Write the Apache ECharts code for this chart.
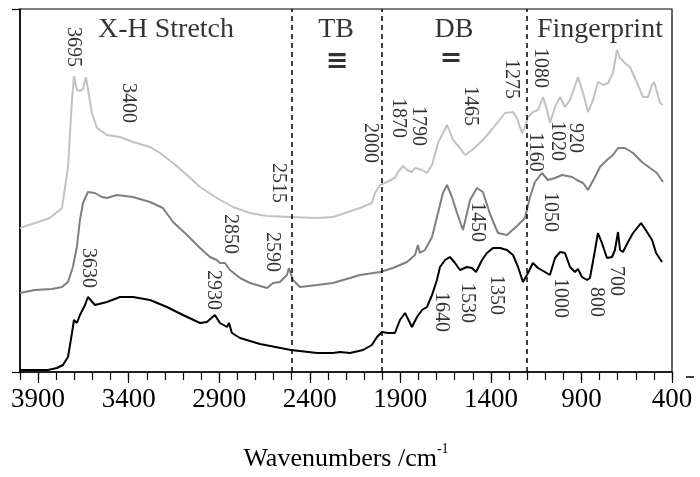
<!DOCTYPE html>
<html><head><meta charset="utf-8">
<script src="https://cdn.jsdelivr.net/npm/echarts@6/dist/echarts.min.js"></script>
<style>html,body{margin:0;padding:0;background:#fff}#c{width:700px;height:477px}</style>
</head><body><div id="c"></div>
<script>
// ---- Data (wavenumber / cm-1, absorbance in arbitrary offset units) ----
const wnA = [4000,3835,3768,3735,3713,3702,3686,3669,3652,3636,3625,3603,3575,3520,3448,3376,3282,3227,3155,3078,3006,2913,2824,2730,2636,2504,2360,2272,2206,2123,2057,2040,2012,1974,1930,1913,1885,1863,1836,1819,1780,1753,1725,1692,1642,1609,1571,1543,1504,1444,1388,1322,1278,1256,1228,1212,1195,1168,1140,1112,1090,1074,1046,1018,991,963,919,891,864,836,809,781,753,726,704,687,660,632,593,560,533,510,499,483,466,450];
const valA = [144,154,164,205,272,296,282,281,283,295,297,259,244,237,235,230,225,219,209,197,185,174,165,159,156,155,154,155,159,164,169,179,187,190,194,200,206,202,200,204,202,199,207,229,247,232,224,217,222,232,244,259,260,254,239,245,255,260,262,275,262,249,265,275,265,272,295,279,260,272,290,287,289,299,322,314,309,305,289,275,275,287,290,280,269,267];

const wnB = [4000,3918,3824,3768,3735,3708,3686,3669,3652,3625,3586,3548,3520,3465,3376,3282,3211,3155,3078,3006,2951,2913,2896,2868,2841,2785,2730,2636,2603,2565,2526,2515,2493,2454,2360,2272,2178,2123,2012,1941,1863,1819,1803,1792,1764,1725,1692,1665,1642,1615,1587,1554,1515,1477,1444,1405,1361,1311,1250,1212,1184,1157,1118,1085,1046,1007,952,925,891,864,825,798,759,726,698,660,615,566,521,483,450];
const valB = [79,82,83,85,90,105,125,152,169,180,179,175,174,177,175,170,164,150,137,124,115,112,109,109,102,94,89,84,89,90,97,104,92,85,87,89,94,97,100,104,110,117,127,119,122,135,159,179,187,175,159,142,172,184,180,158,139,137,147,154,175,190,199,192,194,197,195,192,189,182,195,205,212,217,224,224,219,210,204,199,190];

const wnC = [4000,3846,3796,3763,3735,3713,3702,3686,3669,3641,3625,3586,3520,3448,3376,3282,3189,3100,3006,2968,2924,2896,2857,2846,2830,2785,2675,2504,2360,2272,2233,2178,2106,2057,2029,2001,1968,1930,1902,1874,1836,1808,1780,1753,1725,1698,1681,1653,1626,1598,1571,1532,1504,1482,1449,1422,1388,1350,1311,1278,1250,1223,1195,1168,1140,1101,1074,1046,1018,991,963,936,919,897,869,853,825,809,787,759,731,715,698,687,671,643,615,571,538,510,488,455];
const valC = [2,2,4,7,15,39,52,49,57,67,75,67,70,75,75,72,65,57,49,50,57,49,45,49,39,34,28,22,19,19,20,19,22,27,35,40,39,39,52,59,45,55,62,65,77,92,105,112,115,109,102,105,104,100,112,119,124,124,122,117,105,90,99,109,104,100,97,114,120,119,105,100,103,95,92,94,122,139,129,114,115,122,140,122,120,130,139,149,140,132,119,110];

const tickLabels = [3900,3400,2900,2400,1900,1400,900,400];
const regionBounds = [2500,2000,1200];

const peakText = ['3695','3400','2515','2850','2590','3630','2930','2000','1870','1790','1465','1275','1080','1160','1020','920','1450','1050','1640','1530','1350','1000','800','700'];
const peakWn   = [3708,3404,2576,2841,2609,3625,2935,2068,1913,1803,1515,1289,1129,1157,1035,936,1477,1074,1676,1532,1372,1018,820,709];
const peakY    = [325,269,189,138,120,104,82,229,254,246,266,293,304,220,231,234,150,160,60,69,77,74,70,91];

const regionText = ['X-H Stretch','TB','DB','Fingerprint'];
const regionWn   = [3194,2255,1604,798];
const regionY    = [342,342,342,342];

const bondText = ['≡','='];
const bondWn   = [2250,1620];
const bondY    = [310,313];

// ---- Chart ----
const FONT = '"Liberation Serif","Times New Roman",serif';
const zip = (a, b) => a.map((v, i) => [v, b[i]]);
const chart = echarts.init(document.getElementById('c'), null, {renderer: 'canvas'});
const lineSeries = (name, wn, val, color) => ({
  name, type: 'line', data: zip(wn, val), showSymbol: false, silent: true,
  lineStyle: {color, width: 2}, z: 3
});
const labelSeries = (texts, wn, ys, labelCfg) => ({
  type: 'scatter', silent: true, symbolSize: 1, itemStyle: {color: 'rgba(0,0,0,0)'},
  data: wn.map((w, i) => [w, ys[i], texts[i]]), z: 6,
  label: Object.assign({show: true, position: 'inside', formatter: p => p.data[2], color: '#000'}, labelCfg)
});

chart.setOption({
  animation: false,
  grid: {left: 20, right: 28, top: 9, bottom: 105, show: true, borderColor: '#000', borderWidth: 1.2},
  xAxis: [{
    type: 'value', inverse: true, min: 400, max: 4000, interval: 100,
    axisLine: {lineStyle: {color: '#000', width: 1.5}},
    axisTick: {show: true, length: 8, lineStyle: {color: '#000', width: 1.2}},
    axisLabel: {customValues: tickLabels, formatter: v => String(v), fontFamily: FONT, fontSize: 27, color: '#000', margin: 14},
    splitLine: {show: false},
    name: '{a|Wavenumbers /cm}{s|-1}', nameLocation: 'middle', nameGap: 70,
    nameTextStyle: {rich: {
      a: {fontFamily: FONT, fontSize: 26, color: '#000', lineHeight: 30, verticalAlign: 'bottom'},
      s: {fontFamily: FONT, fontSize: 14, color: '#000', lineHeight: 30, verticalAlign: 'top'}
    }}
  }, {
    type: 'value', inverse: true, min: 400, max: 4000, position: 'bottom',
    axisLine: {show: false},
    axisTick: {show: true, length: 11, customValues: tickLabels, lineStyle: {color: '#000', width: 1.2}},
    axisLabel: {show: false}, splitLine: {show: false}
  }],
  yAxis: {
    type: 'value', min: 0, max: 363, interval: 363,
    axisLine: {show: true, lineStyle: {color: '#000', width: 1.5}},
    axisTick: {show: true, length: 8, lineStyle: {color: '#000', width: 1.2}},
    axisLabel: {show: false}, splitLine: {show: false}
  },
  graphic: [{type: 'line', shape: {x1: 686, y1: 377, x2: 694, y2: 377}, style: {stroke: '#000', lineWidth: 1.5}}],
  series: [
    lineSeries('A', wnA, valA, '#c2c2c2'),
    lineSeries('B', wnB, valB, '#7f7f7f'),
    Object.assign(lineSeries('C', wnC, valC, '#000000'), {
      markLine: {
        silent: true, symbol: 'none', label: {show: false},
        lineStyle: {color: '#000', width: 1.5, type: [5, 4]},
        data: regionBounds.map(v => ({xAxis: v}))
      }
    }),
    labelSeries(peakText, peakWn, peakY, {rotate: -90, fontFamily: FONT, fontSize: 20}),
    labelSeries(regionText, regionWn, regionY, {fontFamily: FONT, fontSize: 28}),
    labelSeries(bondText, bondWn, bondY, {fontFamily: '"DejaVu Sans",sans-serif', fontWeight: 'bold', fontSize: 27})
  ]
});
</script>
</body></html>
